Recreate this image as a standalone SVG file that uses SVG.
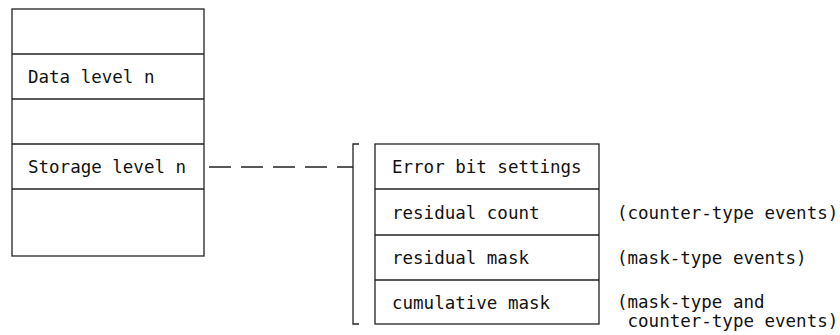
<svg xmlns="http://www.w3.org/2000/svg" width="840" height="335" viewBox="0 0 840 335">
<style>
.box{fill:#fff;stroke:#222;stroke-width:1.3}
.ln{stroke:#222;stroke-width:1.3;fill:none}
.t{font-family:"DejaVu Sans Mono","Liberation Mono",monospace;font-size:17.5px;fill:#111}
</style>
<rect width="840" height="335" fill="#fff"/>
<g id="storage-stack">
<rect class="box" x="12" y="9" width="192" height="247"/>
<line class="ln" x1="12" y1="54" x2="204" y2="54"/>
<line class="ln" x1="12" y1="99" x2="204" y2="99"/>
<line class="ln" x1="12" y1="144" x2="204" y2="144"/>
<line class="ln" x1="12" y1="189" x2="204" y2="189"/>
<text class="t" x="28" y="83">Data level n</text>
<text class="t" x="28" y="173">Storage level n</text>
</g>
<g id="connectors">
<line class="ln" x1="209" y1="167" x2="353" y2="167" stroke-dasharray="22 10"/>
<path class="ln" d="M359,144 H353 V324 H359"/>
</g>
<g id="error-block">
<rect class="box" x="375" y="144" width="224" height="180"/>
<line class="ln" x1="375" y1="189" x2="599" y2="189"/>
<line class="ln" x1="375" y1="235" x2="599" y2="235"/>
<line class="ln" x1="375" y1="280" x2="599" y2="280"/>
<text class="t" x="392" y="173">Error bit settings</text>
<text class="t" x="392" y="219">residual count</text>
<text class="t" x="392" y="264">residual mask</text>
<text class="t" x="392" y="309">cumulative mask</text>
</g>
<g id="notes">
<text class="t" x="617" y="219">(counter-type events)</text>
<text class="t" x="617" y="264">(mask-type events)</text>
<text class="t" x="617" y="308">(mask-type and</text>
<text class="t" x="617" y="327" xml:space="preserve"> counter-type events)</text>
</g>
</svg>
